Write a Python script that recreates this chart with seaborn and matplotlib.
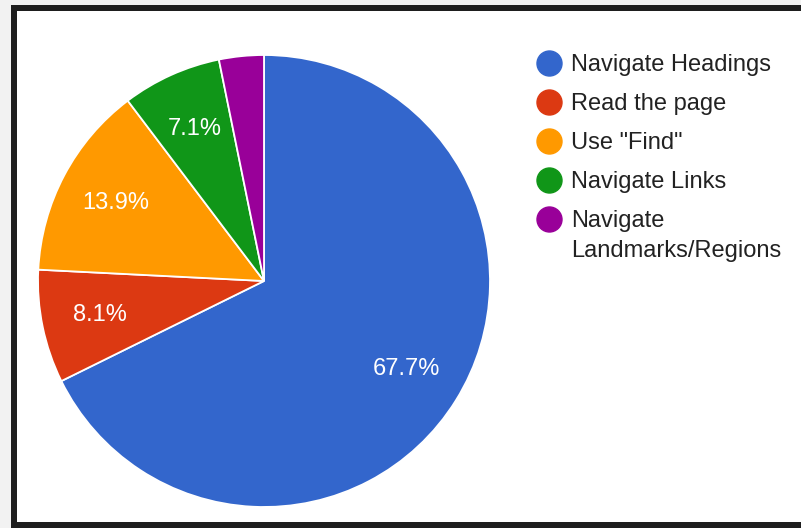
import matplotlib
matplotlib.use("Agg")
import matplotlib.pyplot as plt
import seaborn as sns
from matplotlib.lines import Line2D
from matplotlib.patches import Rectangle

# data
labels = ["Navigate Headings", "Read the page", 'Use "Find"', "Navigate Links",
          "Navigate"]
label_wrap = "Landmarks/Regions"  # second line of the last legend entry
shares = [67.7, 8.1, 13.9, 7.1, 3.2]
colors = ["#3366cc", "#dc3912", "#ff9900", "#109618", "#990099"]

sns.set_theme(style="white")
plt.rcParams["font.family"] = ["Liberation Sans", "DejaVu Sans"]

W, H = 801, 528
fig = plt.figure(figsize=(W / 100, H / 100), dpi=100, facecolor="#f2f2f2")

# dark frame + white panel (pixel coords from top-left)
def px_rect(x0, y0, x1, y1, color):
    fig.patches.append(Rectangle((x0 / W, 1 - y1 / H), (x1 - x0) / W, (y1 - y0) / H,
                                 transform=fig.transFigure, facecolor=color,
                                 edgecolor="none", zorder=-2))

px_rect(11, 5, W + 5, H + 5, "#1e1e1e")
px_rect(17, 11, W + 5, 522, "#ffffff")

cx, cy, r = 264, 281, 226
ax = fig.add_axes([(cx - r) / W, 1 - (cy + r) / H, 2 * r / W, 2 * r / H])
ax.set_facecolor("none")

pal = sns.color_palette(colors)
wedges, texts, autotexts = ax.pie(
    shares, colors=pal, startangle=90, counterclock=False,
    autopct=lambda p: f"{p:.1f}%" if p > 5 else "", pctdistance=0.74,
    wedgeprops=dict(edgecolor="white", linewidth=1.3),
    textprops=dict(color="white", fontsize=17))
ax.set_xlim(-1, 1)
ax.set_ylim(-1, 1)
ax.set_aspect("equal")
ax.axis("off")

handles = [Line2D([0], [0], marker="o", linestyle="none", markersize=18,
                  markerfacecolor=c, markeredgecolor=c) for c in colors]
leg = fig.legend(handles, labels, loc="upper left", bbox_to_anchor=(537 / W, 1 - 54 / H),
                 frameon=False, fontsize=17, labelspacing=0.72, handletextpad=0.45,
                 handlelength=1.0, borderaxespad=0, borderpad=0, labelcolor="#222222")

# wrapped second line under the last entry
fig.canvas.draw()
bb = leg.get_texts()[-1].get_window_extent()
fig.text(bb.x0 / W, (bb.y0 - 30) / H, label_wrap, fontsize=17, color="#222222",
         ha="left", va="bottom")

fig.savefig("out.png", dpi=100, facecolor=fig.get_facecolor())
